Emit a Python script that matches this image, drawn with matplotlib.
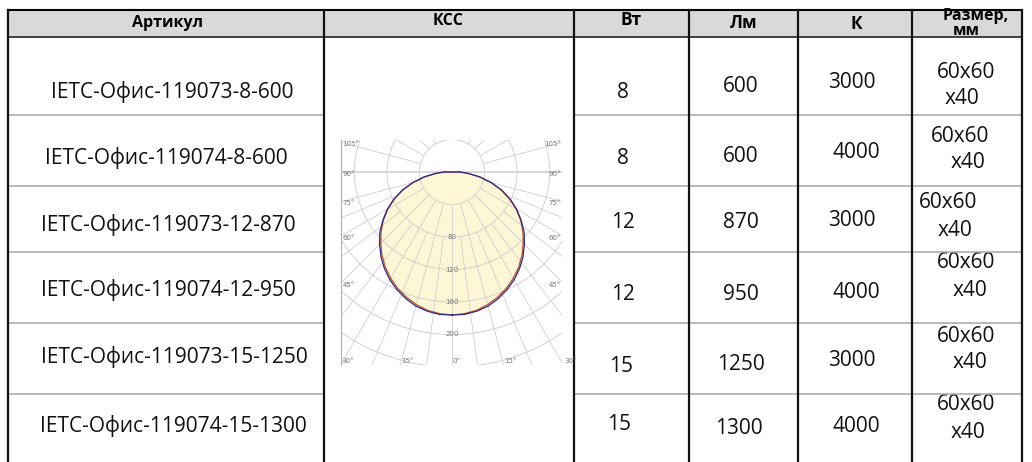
import numpy as np
import matplotlib
matplotlib.use("Agg")
import matplotlib.pyplot as plt

# --- data ---
HEADERS = ["Артикул", "КСС", "Вт", "Лм", "К", "Размер,", "мм"]
ARTICLES = [
    "IETC-Офис-119073-8-600",
    "IETC-Офис-119074-8-600",
    "IETC-Офис-119073-12-870",
    "IETC-Офис-119074-12-950",
    "IETC-Офис-119073-15-1250",
    "IETC-Офис-119074-15-1300",
]
POWER_W = [8, 8, 12, 12, 15, 15]
FLUX_LM = [600, 600, 870, 950, 1250, 1300]
CCT_K = [3000, 4000, 3000, 4000, 3000, 4000]
SIZE_TOP = ["60x60"] * 6
SIZE_BOTTOM = ["x40"] * 6

# КСС (cd/klm), gamma angles from nadir
KSS_GAMMA = [0, 5, 10, 15, 20, 25, 30, 35, 40, 45, 50, 55, 60, 65, 70, 75, 80, 85, 90]
KSS_C0 = [176, 176, 174, 171, 166, 160, 153, 145, 136, 126, 116, 104, 92, 79, 65, 50, 35, 20, 10]
KSS_C90 = [176, 175, 173, 169, 164, 158, 151, 143, 134, 124, 114, 103, 91, 78, 64, 49, 34, 20, 10]
KSS_RINGS = [40, 80, 120, 160, 200, 240, 280]
KSS_RING_LABELS = [80, 120, 160, 200]

# --- layout (pixels) ---
W, H = 1032, 462
COL_X = [8, 324, 574, 689, 798, 912, 1022]
ROW_Y = [10, 37, 115, 186, 252, 323, 394]
HEADER_BG = "#d9d9d9"
GRID_ROW = "#a6a6a6"
FONT = ["Open Sans", "DejaVu Sans"]

fig = plt.figure(figsize=(W / 100, H / 100), dpi=100, facecolor="white")
ax = fig.add_axes([0, 0, 1, 1])
ax.set_xlim(0, W)
ax.set_ylim(H, 0)
ax.axis("off")

# header background
ax.add_patch(plt.Rectangle((COL_X[0], ROW_Y[0]), COL_X[-1] - COL_X[0], ROW_Y[1] - ROW_Y[0],
                           facecolor=HEADER_BG, edgecolor="none", zorder=0))

# header text
hdr_pos = [(168, 23, 11.5), (448, 21, 11.5), (631, 20, 12.5), (744, 23, 12.5),
           (856, 24, 12.5), (976, 16, 11.5), (966, 31, 11.5)]
for (x, y, s), t in zip(hdr_pos, HEADERS):
    ax.text(x, y, t, ha="center", va="center", fontsize=s, fontweight="bold",
            family=FONT, zorder=1)
# "мм" is cut by the header line
ax.add_patch(plt.Rectangle((COL_X[5] + 2, ROW_Y[1] + 1), COL_X[6] - COL_X[5] - 4, 8,
                           facecolor="white", edgecolor="none", zorder=1.5))

# body text
art_pos = [(172, 92), (166, 158), (168, 225), (168, 290), (174, 357), (173, 426)]
w_pos = [(623, 92), (623, 158), (623, 222), (623, 295), (621, 366), (619, 425)]
lm_pos = [(741, 87), (741, 156), (741, 222), (741, 295), (741, 364), (739, 428)]
k_pos = [(852, 82), (856, 152), (852, 220), (856, 292), (852, 361), (856, 427)]
s1_pos = [(966, 72), (960, 137), (948, 202), (966, 263), (966, 336), (966, 404)]
s2_pos = [(962, 98), (968, 163), (955, 230), (970, 290), (970, 362), (968, 432)]

fs = 15
for i in range(6):
    for (x, y), t in [(art_pos[i], ARTICLES[i]), (w_pos[i], POWER_W[i]),
                      (lm_pos[i], FLUX_LM[i]), (k_pos[i], CCT_K[i]),
                      (s1_pos[i], SIZE_TOP[i]), (s2_pos[i], SIZE_BOTTOM[i])]:
        ax.text(x, y, str(t), ha="center", va="center", fontsize=fs, family=FONT,
                color="#111111", zorder=2)

# row lines (gray), skipping the merged КСС column
for y in ROW_Y[2:]:
    ax.plot([COL_X[0], COL_X[1]], [y, y], color=GRID_ROW, lw=1.1, zorder=3)
    ax.plot([COL_X[2], COL_X[-1]], [y, y], color=GRID_ROW, lw=1.1, zorder=3)

# header lines and verticals (black)
ax.plot([COL_X[0], COL_X[-1]], [ROW_Y[0], ROW_Y[0]], color="black", lw=1.5, zorder=4)
ax.plot([COL_X[0], COL_X[-1]], [ROW_Y[1], ROW_Y[1]], color="#222222", lw=1.2, zorder=4)
for x in COL_X:
    ax.plot([x, x], [ROW_Y[0], H], color="#111111", lw=1.6, zorder=4)

# --- КСС polar diagram ---
px_per_cd = 0.8125
cx, cy = 452, 172
left, right, top, bottom = 341, 562, 140, 365
pax = fig.add_axes([left / W, 1 - bottom / H, (right - left) / W, (bottom - top) / H])
xmin, xmax = (left - cx) / px_per_cd, (right - cx) / px_per_cd
ymin, ymax = -(bottom - cy) / px_per_cd, (cy - top) / px_per_cd
pax.set_xlim(xmin, xmax)
pax.set_ylim(ymin, ymax)
pax.axis("off")

g = np.radians(KSS_GAMMA)
c0 = np.array(KSS_C0, dtype=float)
c90 = np.array(KSS_C90, dtype=float)
fx = np.concatenate([-c0 * np.sin(g), (c0 * np.sin(g))[::-1]])
fy = np.concatenate([-c0 * np.cos(g), (-c0 * np.cos(g))[::-1]])
pax.fill(fx, fy, color="#fdf7d5", zorder=1, lw=0)

grid_c = "#cccccc"
t = np.linspace(0, 2 * np.pi, 400)
for r in KSS_RINGS:
    pax.plot(r * np.cos(t), r * np.sin(t), color=grid_c, lw=0.6, zorder=2)
# a measured from nadir: 15 deg lines start at ring 40, in-between lines at ring 80
for a in np.arange(0, 360, 7.5):
    ar = np.radians(a)
    if a % 15 == 0:
        r0 = 40
    elif a <= 75 or a >= 285:
        r0 = 80
    else:
        continue
    pax.plot([r0 * np.sin(ar), 400 * np.sin(ar)], [-r0 * np.cos(ar), -400 * np.cos(ar)],
             color=grid_c, lw=0.55, zorder=2)
pax.plot([xmin, xmax], [0, 0], color="#d8d8d8", lw=1.4, zorder=2)

# curves
x90 = np.concatenate([-c90 * np.sin(g), (c90 * np.sin(g))[::-1]])
y90 = np.concatenate([-c90 * np.cos(g), (-c90 * np.cos(g))[::-1]])
pax.plot(x90, y90, color="#c0502a", lw=0.9, zorder=3)
pax.plot(fx, fy, color="#2d2a8c", lw=0.9, zorder=3)

pax.plot([xmin, xmin], [ymin, ymax], color="#b0b0b0", lw=0.8, zorder=4, clip_on=False)

lab = dict(fontsize=5, color="#777777", zorder=5, family="DejaVu Sans")
for r in KSS_RING_LABELS:
    pax.text(0, -r, str(r), ha="center", va="center", **lab)
for a in [105, 90, 75, 60, 45]:
    y = xmin / np.tan(np.radians(a))
    pax.text(xmin + 2, y - 2, f"{a}°", ha="left", va="center", **lab)
    pax.text(xmax - 1, y - 2, f"{a}°", ha="right", va="center", **lab)
for a in [-30, -15, 0, 15, 30]:
    x = -ymin * np.tan(np.radians(a))
    pax.text(x + 1, ymin + 1, f"{abs(a)}°", ha="left", va="bottom", **lab)

fig.savefig("out.png", dpi=100, facecolor="white")
